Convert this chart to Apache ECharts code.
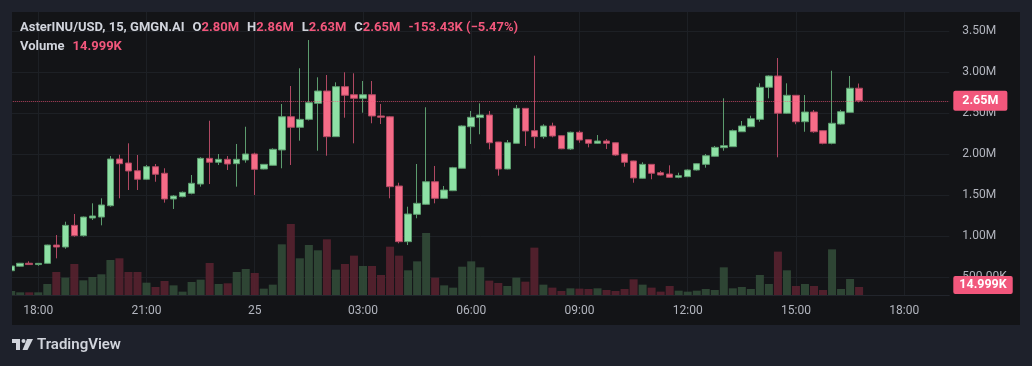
<!DOCTYPE html>
<html><head><meta charset="utf-8">
<script src="https://cdn.jsdelivr.net/npm/echarts@6/dist/echarts.min.js"></script>
<style>html,body{margin:0;padding:0;background:#1e212b;}#c{width:1032px;height:366px;}</style>
</head><body><div id="c"></div>
<script>
// ---- data (prices in millions USD, volumes in thousands) ----
const symbolText = 'AsterINU/USD, 15, GMGN.AI';
const firstSlot = {day: 24, hour: 17, minute: 15}; // first visible 15-min slot
const slotCount = 105;                              // slots shown on the time axis
const opens  = [0.580,0.635,0.671,0.655,0.670,0.893,0.869,1.133,1.007,1.222,1.234,1.372,1.941,1.892,1.798,1.694,1.847,1.767,1.454,1.482,1.523,1.636,1.949,1.901,1.937,1.884,1.929,2.002,1.819,1.864,2.051,2.456,2.327,2.424,2.619,2.769,2.213,2.822,2.724,2.680,2.724,2.465,2.455,1.612,0.934,1.267,1.389,1.664,1.462,1.555,1.828,2.334,2.445,2.477,2.148,1.819,2.132,2.558,2.286,2.213,2.343,2.225,2.063,2.266,2.176,2.132,2.160,2.139,2.002,1.917,1.706,1.876,1.774,1.758,1.718,1.726,1.807,1.876,1.974,2.079,2.091,2.273,2.334,2.424,2.814,2.952,2.498,2.717,2.395,2.513,2.286,2.132,2.367,2.509,2.80343];
const closes = [0.638,0.671,0.655,0.670,0.893,0.869,1.133,1.007,1.234,1.247,1.381,1.941,1.884,1.795,1.694,1.847,1.755,1.454,1.490,1.535,1.645,1.949,1.901,1.937,1.880,1.937,2.002,1.815,1.876,2.059,2.456,2.327,2.424,2.627,2.769,2.213,2.822,2.717,2.680,2.724,2.465,2.450,1.604,0.934,1.271,1.401,1.664,1.462,1.563,1.835,2.343,2.449,2.477,2.139,1.819,2.139,2.558,2.282,2.213,2.343,2.221,2.066,2.266,2.172,2.132,2.160,2.132,1.990,1.901,1.710,1.876,1.767,1.746,1.718,1.738,1.807,1.884,1.981,2.083,2.103,2.286,2.343,2.432,2.814,2.952,2.498,2.717,2.395,2.513,2.273,2.132,2.376,2.517,2.80343,2.650];
const lows   = [0.575,0.630,0.652,0.640,0.665,0.731,0.848,0.995,0.995,1.198,1.133,1.360,1.462,1.563,1.563,1.685,1.664,1.409,1.332,1.475,1.511,1.604,1.636,1.868,1.807,1.604,1.896,1.502,1.815,1.860,1.828,1.868,2.164,2.410,2.042,1.981,2.213,2.444,2.132,2.505,2.376,2.367,1.462,0.914,0.893,1.219,1.381,1.401,1.455,1.550,1.825,2.124,2.242,2.059,1.738,1.815,2.130,2.099,2.071,2.188,2.205,2.060,2.051,2.139,2.083,2.124,2.063,1.980,1.847,1.652,1.700,1.694,1.740,1.715,1.706,1.720,1.800,1.835,1.970,2.042,2.088,2.270,2.330,2.395,2.680,1.962,2.490,2.364,2.273,2.260,2.120,2.120,2.360,2.505,2.630];
const highs  = [0.645,0.675,0.695,0.672,0.897,1.015,1.177,1.271,1.240,1.401,1.462,1.977,1.993,2.132,1.990,1.868,1.880,1.828,1.502,1.545,1.746,1.962,2.407,2.002,1.977,2.124,2.334,2.018,1.880,2.071,2.611,2.830,3.046,3.390,2.936,2.964,2.875,2.997,2.985,2.891,2.891,2.611,2.465,1.652,1.360,1.880,2.571,1.856,1.612,1.845,2.351,2.526,2.619,2.526,2.150,2.172,2.599,2.560,3.199,2.364,2.383,2.230,2.274,2.286,2.180,2.233,2.184,2.142,2.005,1.920,1.901,1.880,1.795,1.864,1.774,1.815,1.890,2.002,2.100,2.680,2.300,2.404,2.468,2.863,2.960,3.171,2.863,2.720,2.720,2.538,2.290,3.016,2.540,2.952,2.860];
const volumes = [7.5,5.0,5.0,5.0,20.6,43.1,32.5,58.1,27.5,33.8,38.8,65.6,68.8,43.1,43.1,23.1,15.0,26.3,18.1,6.3,24.4,28.8,60.0,20.6,21.9,43.1,48.8,41.3,11.9,19.4,95.0,133.1,68.8,93.8,83.8,104.4,47.5,58.1,73.8,54.4,54.4,37.5,90.6,73.8,46.3,63.1,116.3,32.5,18.1,13.8,53.1,63.1,51.9,26.9,22.5,16.9,32.5,25.0,88.8,19.4,13.8,7.5,12.5,11.9,11.3,12.5,9.4,7.5,11.3,29.4,19.4,13.8,6.3,16.9,8.1,6.3,8.1,11.3,9.4,51.9,12.5,15.0,11.3,37.5,20.6,81.3,46.3,16.9,20.6,16.9,9.4,85.6,11.3,30.0,14.999];
const priceTicks = {min: 0.5, max: 3.5, step: 0.5};

// ---- colors ----
const UP = '#8ee0a5', DOWN = '#f56c87';
const UP_WICK = '#5c9c6e', DOWN_WICK = '#b04862';
const VOL_UP = 'rgba(52,78,58,0.85)', VOL_DOWN = 'rgba(92,34,48,0.85)';
const PINK = '#f2577c', TXT = '#d1d4dc', AXT = '#b2b5be', GRIDC = '#1d2025';
const FONT = 'Roboto, "Noto Sans", sans-serif';

// categories (15-minute slots)
const categories = [];
{
  let d = firstSlot.day, h = firstSlot.hour, m = firstSlot.minute;
  for (let k = 0; k < slotCount; k++) {
    categories.push(d + ' ' + String(h).padStart(2,'0') + ':' + String(m).padStart(2,'0'));
    m += 15; if (m >= 60) { m = 0; h++; if (h >= 24) { h = 0; d++; } }
  }
}
const showTick = (idx, val) => { const t = val.split(' ')[1]; const [hh, mm] = t.split(':').map(Number); return mm === 0 && hh % 3 === 0; };
const fmtTick = (val) => { const [d, t] = val.split(' '); return t === '00:00' ? d : t; };

const candleData = opens.map((o, i) => [o * 1e6, closes[i] * 1e6, lows[i] * 1e6, highs[i] * 1e6]);
const volData = volumes.map((v, i) => ({ value: v, itemStyle: { color: closes[i] >= opens[i] ? VOL_UP : VOL_DOWN } }));

const n = opens.length - 1;
const fM = v => (v).toFixed(2) + 'M';
const prevClose = closes[n - 1], lastClose = closes[n];
const chg = (lastClose - prevClose) * 1000;
const chgTxt = (chg < 0 ? '-' : '+') + Math.abs(chg).toFixed(2) + 'K (' + (chg < 0 ? '\u2212' : '+') + Math.abs(chg / prevClose / 10).toFixed(2) + '%)';
const volTxt = volumes[n].toFixed(3) + 'K';

const GL = 11.2, GR = 1032 - 949.3;
const rich = {
  n: { color: TXT, fontSize: 13, fontFamily: FONT, lineHeight: 16 },
  v: { color: PINK, fontSize: 13, fontFamily: FONT, lineHeight: 16 },
  s: { width: 8, fontSize: 13, lineHeight: 16 }
};
const chart = echarts.init(document.getElementById('c'), null, { renderer: 'canvas' });
chart.setOption({
  backgroundColor: '#1e212b',
  animation: false,
  textStyle: { fontFamily: FONT },
  title: [
    { left: 20, top: 20, padding: 0,
      text: `{n|${symbolText}}{s| }{n|O}{v|${fM(opens[n])}}{s| }{n|H}{v|${fM(highs[n])}}{s| }{n|L}{v|${fM(lows[n])}}{s| }{n|C}{v|${fM(closes[n])}}{s| }{v|${chgTxt}}`,
      textStyle: { rich } },
    { left: 20, top: 39, padding: 0,
      text: `{n|Volume}{s| }{v|${volTxt}}`,
      textStyle: { rich } }
  ],
  grid: [
    { left: GL, right: GR, top: 31, bottom: 366 - 277.3 },
    { left: GL, right: GR, top: 12, bottom: 71 }
  ],
  xAxis: [
    { type: 'category', gridIndex: 0, data: categories, boundaryGap: false,
      axisLine: { show: false }, axisTick: { show: false }, axisLabel: { show: false }, splitLine: { show: false } },
    { type: 'category', gridIndex: 1, data: categories, boundaryGap: false,
      axisLine: { show: true, lineStyle: { color: '#22252c' } }, axisTick: { show: false },
      axisLabel: { interval: showTick, formatter: fmtTick, color: AXT, fontSize: 12, margin: 10, fontFamily: FONT },
      splitLine: { show: true, interval: showTick, lineStyle: { color: GRIDC, width: 1 } } }
  ],
  yAxis: [
    { type: 'value', gridIndex: 0, position: 'right', min: priceTicks.min * 1e6, max: priceTicks.max * 1e6, interval: priceTicks.step * 1e6,
      axisLine: { show: false }, axisTick: { show: false },
      axisLabel: { color: AXT, fontSize: 12, margin: 13, fontFamily: FONT,
        formatter: v => v >= 1e6 ? (v / 1e6).toFixed(2) + 'M' : (v / 1e3).toFixed(2) + 'K' },
      splitLine: { show: true, lineStyle: { color: GRIDC, width: 1 } } },
    { type: 'value', gridIndex: 1, min: 0, max: 530.6, show: false, splitLine: { show: false } }
  ],
  series: [
    { type: 'bar', xAxisIndex: 1, yAxisIndex: 1, data: volData, barWidth: 8, z: 1,
      markLine: { silent: true, symbol: ['none', 'none'], data: [{ yAxis: volumes[n] }],
        lineStyle: { color: 'rgba(0,0,0,0)', width: 1 },
        label: { show: true, position: 'end', distance: 4, formatter: volTxt, backgroundColor: PINK, color: '#fff',
          fontSize: 12.5, fontWeight: 'bold', padding: [3, 6, 2, 6], borderRadius: 2, offset: [0, -2], fontFamily: FONT } } },
    { type: 'candlestick', xAxisIndex: 0, yAxisIndex: 0, data: candleData, barWidth: 7, z: 3,
      itemStyle: { color: UP, color0: DOWN, borderColor: UP_WICK, borderColor0: DOWN_WICK, borderWidth: 1 },
      markLine: { silent: true, symbol: ['none', 'none'], data: [{ yAxis: lastClose * 1e6 }],
        lineStyle: { type: 'dotted', color: 'rgba(242,87,124,0.7)', width: 1 },
        label: { show: true, position: 'end', distance: 4, formatter: fM(lastClose), backgroundColor: PINK, color: '#fff',
          fontSize: 12.5, fontWeight: 'bold', padding: [4, 9, 3, 9], borderRadius: 2, fontFamily: FONT } } }
  ],
  graphic: [
    { type: 'rect', z: -10, silent: true, shape: { x: 12, y: 12, width: 1008, height: 313 }, style: { fill: '#131417' } },
    { type: 'rect', z: 100, silent: true, shape: { x: 0, y: 0, width: 12, height: 366 }, style: { fill: '#1e212b' } },
    { type: 'group', left: 11, top: 339, z: 100, children: [
      { type: 'rect', shape: { x: 0, y: 0, width: 9, height: 4 }, style: { fill: TXT } },
      { type: 'rect', shape: { x: 5, y: 0, width: 4, height: 11 }, style: { fill: TXT } },
      { type: 'circle', shape: { cx: 12.5, cy: 2, r: 2 }, style: { fill: TXT } },
      { type: 'polygon', shape: { points: [[16, 0], [22, 0], [16.5, 11], [11.5, 11]] }, style: { fill: TXT } }
    ] },
    { type: 'text', left: 37, top: 338, z: 100, style: { text: 'TradingView', fill: TXT, font: '600 15px ' + FONT } }
  ]
});
</script></body></html>
